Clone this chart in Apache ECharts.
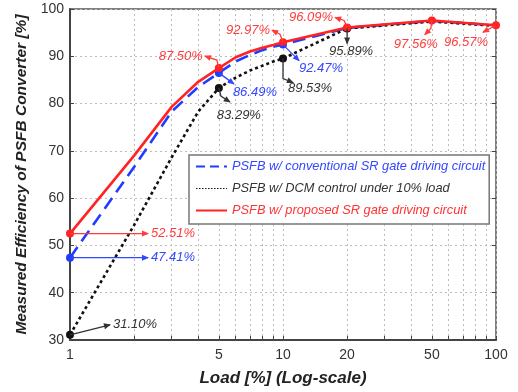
<!DOCTYPE html>
<html>
<head>
<meta charset="utf-8">
<script src="https://cdn.jsdelivr.net/npm/echarts@6/dist/echarts.min.js"></script>
<style>
  html, body { margin: 0; padding: 0; background: #fff; }
  #chart { width: 518px; height: 392px; }
</style>
</head>
<body>
<div id="chart"></div>
<script>
// Measured efficiency of the PSFB converter versus load (log scale)
const loadPct = [1, 2, 3, 4, 5, 6, 7, 8, 9, 10, 20, 50, 100];
const effConventional = [47.41, 66.6, 78.3, 83.5, 86.49, 88.9, 90.3, 91.3, 92.0, 92.47, 96.0, 97.5, 96.55];
const effDcm = [31.10, 54.3, 68.6, 78.3, 83.29, 85.5, 87.0, 88.0, 88.9, 89.53, 95.89, 97.35, 96.45];
const effProposed = [52.51, 69.0, 79.3, 84.6, 87.50, 89.8, 91.0, 91.8, 92.4, 92.97, 96.09, 97.56, 96.57];

const seriesNames = [
  'PSFB w/ conventional SR gate driving circuit',
  'PSFB w/ DCM control under 10% load',
  'PSFB w/ proposed SR gate driving circuit'
];

// Loads where a measured point is marked
const markedConventional = [1, 5, 10];
const markedDcm = [1, 5, 10, 20];
const markedProposed = [1, 5, 10, 20, 50, 100];

const xTickLabels = [1, 5, 10, 20, 50, 100];
const xGridValues = [1, 2, 3, 4, 5, 6, 7, 8, 9, 10, 20, 30, 40, 50, 60, 70, 80, 90, 100];

const FONT = '"Liberation Sans", Arial, sans-serif';
const RED = '#ff2323';
const BLUE = '#1f3dff';
const BLACK = '#111111';

function buildData(values, marked, size) {
  return loadPct.map((x, i) => {
    const item = { value: [x, values[i]] };
    if (marked.indexOf(x) >= 0) { item.symbol = 'circle'; item.symbolSize = size; }
    return item;
  });
}

const chart = echarts.init(document.getElementById('chart'), null, { renderer: 'canvas' });

chart.setOption({
  animation: false,
  backgroundColor: '#fff',
  grid: {
    left: 70, right: 22, top: 9, bottom: 51,
    show: true, borderColor: '#555', borderWidth: 1.5, backgroundColor: 'transparent'
  },
  legend: {
    orient: 'vertical',
    left: 189, top: 155,
    padding: [5, 4, 7, 6],
    itemGap: 9,
    itemWidth: 31, itemHeight: 14,
    backgroundColor: '#fff',
    borderColor: '#777', borderWidth: 1.5,
    selectedMode: false,
    textStyle: { fontFamily: FONT, fontSize: 12.8, fontStyle: 'italic' },
    data: [
      { name: seriesNames[0], textStyle: { color: '#3347ff' }, itemStyle: { opacity: 0 }, lineStyle: { width: 2, type: [9, 5] } },
      { name: seriesNames[1], textStyle: { color: '#333' }, itemStyle: { opacity: 0 }, lineStyle: { width: 1.2, type: [1.5, 1.5] } },
      { name: seriesNames[2], textStyle: { color: '#ff3333' }, itemStyle: { opacity: 0 }, lineStyle: { width: 2 } }
    ]
  },
  xAxis: [{
    type: 'log', logBase: 10, min: 1, max: 100,
    axisLine: { show: true, lineStyle: { color: '#444', width: 2 } },
    axisTick: { show: true, inside: true, length: 4, customValues: xGridValues, lineStyle: { color: '#444' } },
    axisLabel: { customValues: xTickLabels, fontFamily: FONT, fontSize: 14, color: '#333', margin: 8 },
    splitLine: { show: true, lineStyle: { type: [2, 3], color: '#bdbdbd', width: 1 } },
    name: 'Load [%] (Log-scale)', nameLocation: 'middle', nameGap: 30,
    nameTextStyle: { fontFamily: FONT, fontSize: 17, fontWeight: 'bold', fontStyle: 'italic', color: '#222' }
  }],
  yAxis: [{
    type: 'value', min: 30, max: 100, interval: 10,
    axisLine: { show: true, lineStyle: { color: '#444', width: 2 } },
    axisTick: { show: true, inside: true, length: 4, lineStyle: { color: '#444' } },
    axisLabel: { fontFamily: FONT, fontSize: 14, color: '#333', margin: 6 },
    splitLine: { show: true, lineStyle: { type: [2, 3], color: '#bdbdbd', width: 1 } },
    name: 'Measured Efficiency of PSFB Converter [%]', nameLocation: 'middle', nameGap: 34,
    nameTextStyle: { fontFamily: FONT, fontSize: 15.5, fontWeight: 'bold', fontStyle: 'italic', color: '#222' }
  }, {
    type: 'value', min: 30, max: 100, interval: 10, position: 'right',
    axisLine: { show: false },
    axisTick: { show: true, inside: true, length: 4, lineStyle: { color: '#444' } },
    axisLabel: { show: false },
    splitLine: { show: false }
  }],
  series: [
    {
      name: seriesNames[0], type: 'line', symbol: 'none', z: 3,
      data: buildData(effConventional, markedConventional, 8),
      lineStyle: { color: BLUE, width: 2.6, type: [13, 7] },
      itemStyle: { color: BLUE },
      emphasis: { disabled: true }
    },
    {
      name: seriesNames[1], type: 'line', symbol: 'none', z: 4,
      data: buildData(effDcm, markedDcm, 8),
      lineStyle: { color: BLACK, width: 2.6, type: [3, 3] },
      itemStyle: { color: BLACK },
      emphasis: { disabled: true }
    },
    {
      name: seriesNames[2], type: 'line', symbol: 'none', z: 5,
      data: buildData(effProposed, markedProposed, 8),
      lineStyle: { color: RED, width: 2.6 },
      itemStyle: { color: RED },
      emphasis: { disabled: true }
    }
  ]
});

// Value callouts: arrow path offsets (px) from the measured point, label placement
const callouts = [
  { vals: effProposed, load: 1, color: '#ff3b3b', path: [[0, 0], [78, 0]], label: [81, 0], align: 'left' },
  { vals: effConventional, load: 1, color: '#3347ff', path: [[0, 0], [78, 0]], label: [81, 0], align: 'left' },
  { vals: effDcm, load: 1, color: '#333', path: [[0, 0], [40, -10]], label: [43, -10], align: 'left' },
  { vals: effProposed, load: 5, color: '#ff3b3b', path: [[0, 0], [-2, -8], [-14, -12]], label: [-16, -12], align: 'right' },
  { vals: effConventional, load: 5, color: '#3347ff', path: [[0, 0], [15, 11]], label: [14, 20], align: 'left' },
  { vals: effDcm, load: 5, color: '#333', path: [[0, 0], [2, 8], [11, 14]], label: [20, 27], align: 'center' },
  { vals: effProposed, load: 10, color: '#ff3b3b', path: [[0, 0], [-3, -8], [-11, -12]], label: [-13, -12], align: 'right' },
  { vals: effConventional, load: 10, color: '#3347ff', path: [[0, 0], [16, 16]], label: [16, 24], align: 'left' },
  { vals: effDcm, load: 10, color: '#333', path: [[0, 0], [0, 20], [10, 24]], label: [27, 30], align: 'center' },
  { vals: effProposed, load: 20, color: '#ff3b3b', path: [[0, 0], [-3, -7], [-12, -10]], label: [-14, -10], align: 'right' },
  { vals: effDcm, load: 20, color: '#333', path: [[0, 0], [0, 15]], label: [4, 23], align: 'center' },
  { vals: effProposed, load: 50, color: '#ff3b3b', path: [[0, 0], [-1, 8], [-7, 14]], label: [-16, 24], align: 'center' },
  { vals: effProposed, load: 100, color: '#ff3b3b', path: [[0, 0], [-13, 7]], label: [-30, 17], align: 'center' }
];

const graphics = [];
callouts.forEach(c => {
  const i = loadPct.indexOf(c.load);
  const v = c.vals[i];
  const p = chart.convertToPixel({ xAxisIndex: 0, yAxisIndex: 0 }, [c.load, v]);
  const pts = c.path.map(d => [p[0] + d[0], p[1] + d[1]]);
  graphics.push({
    type: 'polyline', z: 100, silent: true,
    shape: { points: pts },
    style: { stroke: c.color, lineWidth: 1.3, fill: null }
  });
  const a = pts[pts.length - 2], b = pts[pts.length - 1];
  const dx = b[0] - a[0], dy = b[1] - a[1];
  const len = Math.sqrt(dx * dx + dy * dy) || 1;
  const ux = dx / len, uy = dy / len;
  const hl = 6, hw = 3;
  graphics.push({
    type: 'polygon', z: 101, silent: true,
    shape: { points: [
      [b[0] + ux * 1, b[1] + uy * 1],
      [b[0] - ux * hl - uy * hw, b[1] - uy * hl + ux * hw],
      [b[0] - ux * hl + uy * hw, b[1] - uy * hl - ux * hw]
    ] },
    style: { fill: c.color }
  });
  graphics.push({
    type: 'text', z: 102, silent: true,
    x: p[0] + c.label[0], y: p[1] + c.label[1],
    style: {
      text: v.toFixed(2) + '%',
      fill: c.color, font: 'italic 13px ' + FONT,
      align: c.align, verticalAlign: 'middle'
    }
  });
});
chart.setOption({ graphic: graphics });
</script>
</body>
</html>
